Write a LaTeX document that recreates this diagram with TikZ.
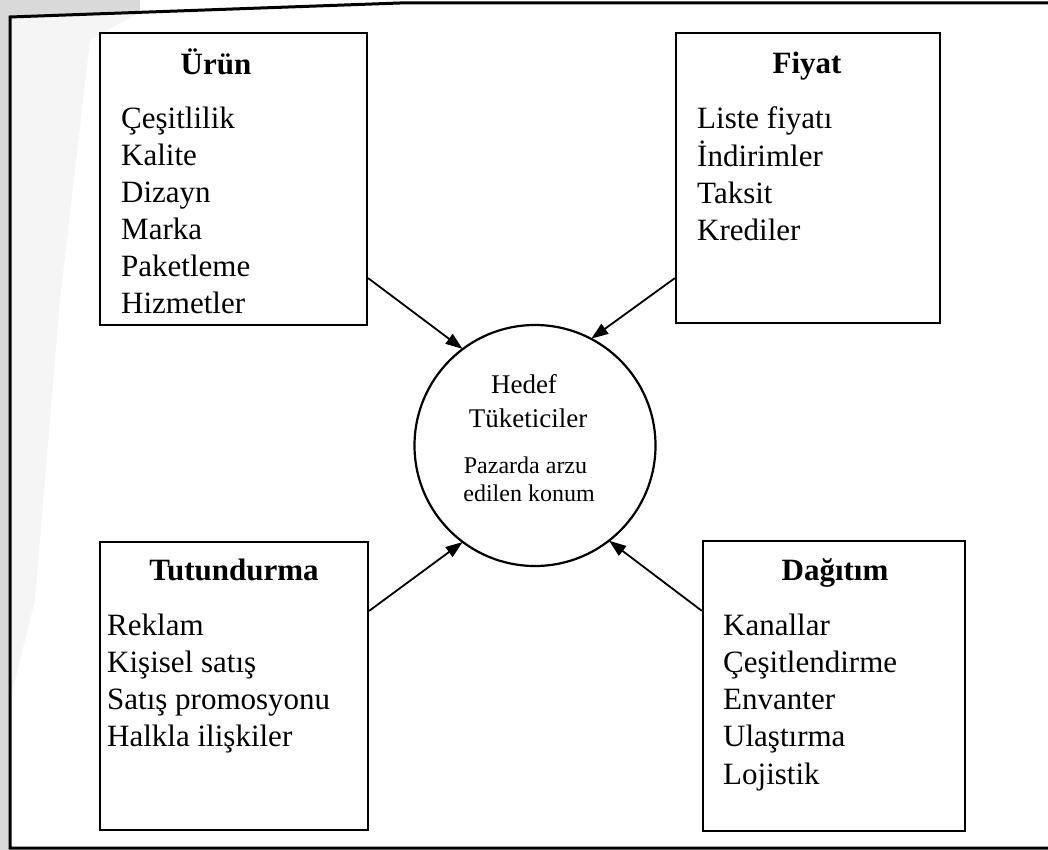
\documentclass[tikz,border=0pt]{standalone}
\usepackage{fontspec}
\setmainfont{Liberation Serif}
\usetikzlibrary{arrows.meta}

\tikzset{
  mixbox/.style={draw, rectangle, line width=2.2pt, inner sep=0pt},
  boxtitle/.style={anchor=base, inner sep=0pt, font=\fontsize{31}{37}\selectfont\bfseries},
  boxitem/.style={anchor=base west, inner sep=0pt, font=\fontsize{31}{37}\selectfont},
  bigtext/.style={anchor=base, inner sep=0pt, font=\fontsize{27}{32}\selectfont},
  smalltext/.style={anchor=base, inner sep=0pt, font=\fontsize{24}{28}\selectfont},
  feed/.style={line width=1.8pt, -{Triangle[length=17pt,width=12pt]}, shorten >=-1pt},
}

\begin{document}
\begin{tikzpicture}[x=1pt, y=-1pt]
  \useasboundingbox (0,0) rectangle (1048,850);

  % shaded page margin left of the frame
  \fill[gray!30] (0,0) -- (140,0) -- (140,12) -- (10,17) -- (10,850) -- (0,850) -- cycle;
  \fill[gray!8] (10,17) -- (140,12) -- (90,40) -- (60,300) -- (35,600) -- (10,700) -- cycle;

  % outer frame
  \draw[line width=3pt] (1048,3) -- (400,3) -- (10,17) -- (10,848) -- (1048,848);

  % the four mix boxes
  \node[mixbox, minimum width=267pt, minimum height=292pt] (urun)  at (233.5,179) {};
  \node[mixbox, minimum width=264pt, minimum height=290pt] (fiyat) at (808,178) {};
  \node[mixbox, minimum width=268pt, minimum height=288pt] (tutun) at (234,686) {};
  \node[mixbox, minimum width=262pt, minimum height=290pt] (dagit) at (834,686) {};

  % target consumers
  \node[draw, circle, line width=2.2pt, minimum size=241pt, inner sep=0pt] (hedef) at (535,445.5) {};
  \node[bigtext] (hedefA) at (524,393) {Hedef};
  \node[bigtext] (hedefB) at (528,427) {Tüketiciler};
  \node[smalltext] (hedefC) at (525.5,473) {Pazarda arzu};
  \node[smalltext] (hedefD) at (529,501) {edilen konum};

  % box titles
  \node[boxtitle] (urunT)  at (216,75)  {Ürün};
  \node[boxtitle] (fiyatT) at (807,74)  {Fiyat};
  \node[boxtitle] (tutunT) at (234,580) {Tutundurma};
  \node[boxtitle] (dagitT) at (835,580) {Dağıtım};

  % box items
  \foreach \t [count=\i] in {Çeşitlilik, Kalite, Dizayn, Marka, Paketleme, Hizmetler}
    \node[boxitem] (urun\i) at (121, 129+36.8*\i-36.8) {\t};
  \foreach \t [count=\i] in {Liste fiyatı, İndirimler, Taksit, Krediler}
    \node[boxitem] (fiyat\i) at (697, 129+37.2*\i-37.2) {\t};
  \foreach \t [count=\i] in {Reklam, Kişisel satış, Satış promosyonu, Halkla ilişkiler}
    \node[boxitem] (tutun\i) at (107, 635+37.3*\i-37.3) {\t};
  \foreach \t [count=\i] in {Kanallar, Çeşitlendirme, Envanter, Ulaştırma, Lojistik}
    \node[boxitem] (dagit\i) at (723, 635+37.3*\i-37.3) {\t};

  % arrows into the circle
  \draw[feed] ([yshift=48pt]urun.south east)  -- (hedef.127.7);
  \draw[feed] ([yshift=46pt]fiyat.south west) -- (hedef.62.7);
  \draw[feed] ([yshift=-70pt]tutun.north east) -- (hedef.-127);
  \draw[feed] ([yshift=-71pt]dagit.north west) -- (hedef.-52.3);
\end{tikzpicture}
\end{document}
